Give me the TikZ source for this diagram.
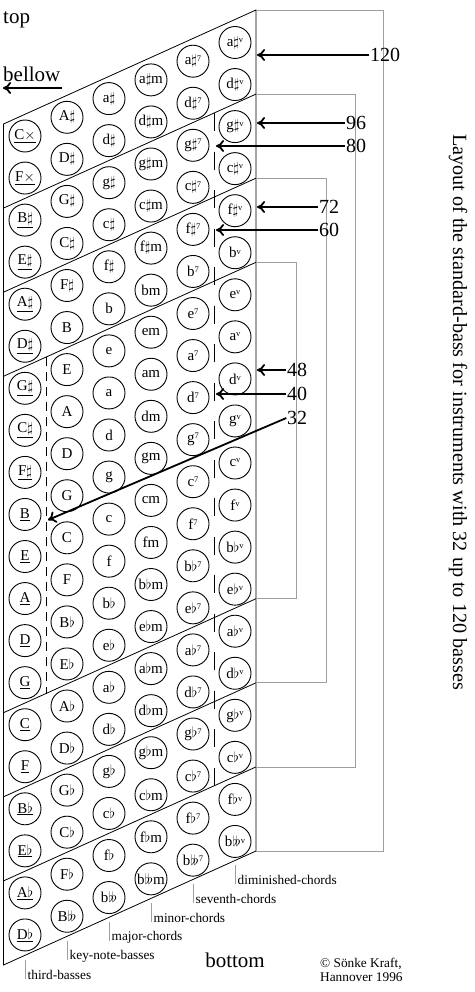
\documentclass[tikz,border=0pt]{standalone}
\usepackage{fontspec}
\setmainfont{Liberation Serif}
\usetikzlibrary{arrows.meta}
\newcommand{\Shp}{\ensuremath{\sharp}}
\newcommand{\Flt}{\ensuremath{\flat}}
\newcommand{\DFlt}{\ensuremath{\flat\!\flat}}
\newcommand{\Dbx}{\ensuremath{\times}}
\newcommand{\hsup}[1]{\raisebox{0.55ex}{\fontsize{8.5}{8.5}\selectfont #1}}
\definecolor{brk}{gray}{0.62}
\begin{document}
\begin{tikzpicture}[x=1pt,y=-1pt,
  btn/.style={circle,draw,line width=0.9pt,minimum size=32pt,inner sep=0pt,font=\fontsize{15}{15}\selectfont},
  frame/.style={line width=0.8pt},
  bracket/.style={draw=brk,line width=0.8pt},
  arr/.style={line width=1.8pt,-{Computer Modern Rightarrow[length=8pt,width=12pt]}},
  num/.style={font=\fontsize{20}{20}\selectfont,inner sep=0.5pt},
  big/.style={font=\fontsize{21}{21}\selectfont,inner sep=0pt},
  lab/.style={font=\fontsize{13.3}{14}\selectfont,inner sep=0pt,anchor=west},
  tick/.style={draw=brk,line width=0.8pt}]
\useasboundingbox (0,0) rectangle (474,992);

% frame and group lines
\draw[frame] (3.5,124) -- (256,10) -- (256,851) -- (3.5,965) -- cycle;
\foreach \m in {1,2,3,7,8,9}
  \draw[frame] (3.5,{124+84.1*\m}) -- (256,{10+84.1*\m});

% brackets
\draw[bracket] (256,10) -- (383,10) -- (383,851) -- (256,851);
\draw[bracket] (256,94.1) -- (355,94.1) -- (355,766.9) -- (256,766.9);
\draw[bracket] (256,178.2) -- (326,178.2) -- (326,682.8) -- (256,682.8);
\draw[bracket] (256,262.3) -- (296,262.3) -- (296,598.7) -- (256,598.7);

% dashed separators
\draw[line width=0.8pt,dash pattern=on 9pt off 6pt] (46,357.1) -- (46,693.5);
\draw[line width=0.8pt,dash pattern=on 18pt off 20.5pt] (214,113.1) -- (214,785.9);

% third basses
\foreach \n [count=\j from 0] in {C\Dbx,F\Dbx,B\Shp,E\Shp,A\Shp,D\Shp,G\Shp,C\Shp,F\Shp,B,E,A,D,G,C,F,B\Flt,E\Flt,A\Flt,D\Flt}
  \node[btn] (t\j) at (25,{136+42.05*\j}) {\underline{\n}};
% key-note basses
\foreach \n [count=\j from 0] in {A\Shp,D\Shp,G\Shp,C\Shp,F\Shp,B,E,A,D,G,C,F,B\Flt,E\Flt,A\Flt,D\Flt,G\Flt,C\Flt,F\Flt,B\DFlt}
  \node[btn] (k\j) at (67,{117.3+42.05*\j}) {\n};
% chords
\def\lowlist{a\Shp,d\Shp,g\Shp,c\Shp,f\Shp,b,e,a,d,g,c,f,b\Flt,e\Flt,a\Flt,d\Flt,g\Flt,c\Flt,f\Flt,b\DFlt}
\foreach \n [count=\j from 0] in \lowlist {
  \node[btn] (M\j) at (109,{98.6+42.05*\j}) {\n};
  \node[btn] (m\j) at (151,{79.9+42.05*\j}) {\n m};
  \node[btn] (s\j) at (193,{61.2+42.05*\j}) {\n\hsup{7}};
  \node[btn] (d\j) at (235,{42.5+42.05*\j}) {\n\hsup{v}};
}

% numbers and arrows
\node[num] (n120) at (385,55) {120};
\node[num] (n96) at (356,123) {96};
\node[num] (n80) at (356,146) {80};
\node[num] (n72) at (329,207) {72};
\node[num] (n60) at (329,230) {60};
\node[num] (n48) at (297,370) {48};
\node[num] (n40) at (297,394) {40};
\node[num] (n32) at (297,418) {32};
\coordinate (e120) at (257,55);
\coordinate (e96) at (257,123);
\coordinate (e80) at (216,146);
\coordinate (e72) at (257,207);
\coordinate (e60) at (216,230);
\coordinate (e48) at (257,370);
\coordinate (e40) at (216,394);
\coordinate (e32) at (48,520);
\draw[arr] (n120.west) -- (e120);
\draw[arr] (n96.west) -- (e96);
\draw[arr] (n80.west) -- (e80);
\draw[arr] (n72.west) -- (e72);
\draw[arr] (n60.west) -- (e60);
\draw[arr] (n48.west) -- (e48);
\draw[arr] (n40.west) -- (e40);
\draw[arr] (n32.west) -- (e32);

% top / bellow / bottom
\node[big,anchor=west] (top) at (3,20) {top};
\node[big,anchor=west] (bellow) at (3,74) {bellow};
\coordinate (bR) at (62,88);
\coordinate (bL) at (3,88);
\draw[arr] (bR) -- (bL);
\node[big] (bottom) at (235,960) {bottom};
\node[lab,align=left] (copy) at (320,970) {\textcopyright{} Sönke Kraft,\\Hannover 1996};

% title
\node[rotate=-90,inner sep=0pt,font=\fontsize{20.2}{20.2}\selectfont] (title) at (458,412) {Layout of the standard-bass for instruments with 32 up to 120 basses};

% bottom row labels
\foreach \k/\t in {0/third-basses,1/key-note-basses,2/major-chords,3/minor-chords,4/seventh-chords,5/diminished-chords} {
  \pgfmathsetmacro\xx{25+42*\k}
  \pgfmathsetmacro\yb{965-(\xx-3.5)*0.4515}
  \draw[tick] (\xx,{\yb+5}) -- (\xx,{\yb+24});
  \node[lab] (L\k) at ({\xx+2.5},{\yb+19.5}) {\t};
}
\end{tikzpicture}
\end{document}
